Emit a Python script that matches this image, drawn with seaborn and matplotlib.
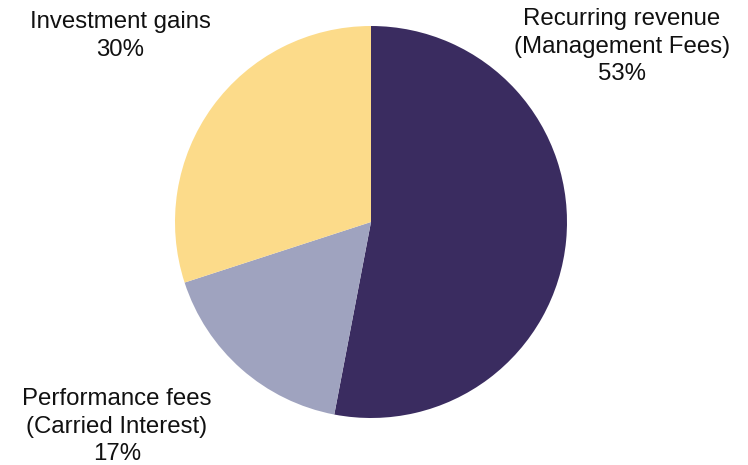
import matplotlib
matplotlib.use("Agg")
import matplotlib.pyplot as plt
import seaborn as sns

# Revenue mix
categories = ["Recurring revenue\n(Management Fees)",
              "Performance fees\n(Carried Interest)",
              "Investment gains"]
shares = [53, 17, 30]
colors = ["#3A2C60", "#9FA3BF", "#FCDB8A"]

sns.set_theme(style="white")
plt.rcParams["font.family"] = ["Liberation Sans", "DejaVu Sans"]

W, H = 748, 465
fig = plt.figure(figsize=(W / 100, H / 100), dpi=100)
ax = fig.add_axes([0, 0, 1, 1])

palette = sns.color_palette(colors)
ax.pie(shares, colors=palette, startangle=90, counterclock=False,
       center=(371, 243), radius=196, frame=True,
       wedgeprops=dict(linewidth=0))
ax.set_xlim(0, W)
ax.set_ylim(0, H)
ax.set_aspect("equal")
ax.axis("off")

# label anchors (centre x, top y)
label_pos = [(622, 457), (117, 77), (120, 454)]
for name, val, (x, y) in zip(categories, shares, label_pos):
    ax.text(x, y, f"{name}\n{val}%", ha="center", va="top",
            fontsize=17.3, color="#111111", linespacing=1.33)

fig.savefig("out.png", dpi=100)
